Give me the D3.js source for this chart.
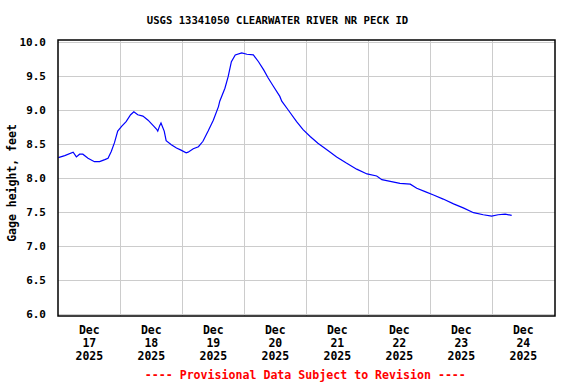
<!DOCTYPE html>
<html>
<head>
<meta charset="utf-8">
<script src="https://cdn.jsdelivr.net/npm/d3@7"></script>
<style>
html,body{margin:0;padding:0;background:#fff;}
svg{display:block;}
text{font-family:"DejaVu Sans Mono",monospace;font-weight:bold;}
</style>
</head>
<body>
<svg id="chart" width="576" height="384"></svg>
<script>
const title = "USGS 13341050 CLEARWATER RIVER NR PECK ID";
const yLabel = "Gage height, feet";
const footer = "---- Provisional Data Subject to Revision ----";
const yTicks = [6.0, 6.5, 7.0, 7.5, 8.0, 8.5, 9.0, 9.5, 10.0];
const dayTicks = ["2025-12-17","2025-12-18","2025-12-19","2025-12-20","2025-12-21","2025-12-22","2025-12-23","2025-12-24"];
const times = [
"2025-12-17T00:00","2025-12-17T02:30","2025-12-17T05:45","2025-12-17T07:00","2025-12-17T08:15","2025-12-17T09:30",
"2025-12-17T11:30","2025-12-17T14:00","2025-12-17T16:00","2025-12-17T18:00","2025-12-17T19:15","2025-12-17T20:30",
"2025-12-17T21:45","2025-12-17T23:00","2025-12-18T00:30","2025-12-18T02:15","2025-12-18T04:00","2025-12-18T05:15",
"2025-12-18T06:45","2025-12-18T08:45","2025-12-18T10:45","2025-12-18T12:45","2025-12-18T14:00","2025-12-18T14:30",
"2025-12-18T15:15","2025-12-18T15:45","2025-12-18T17:00","2025-12-18T17:45","2025-12-18T19:45","2025-12-18T21:45",
"2025-12-18T23:30","2025-12-19T01:30","2025-12-19T02:15","2025-12-19T04:15","2025-12-19T06:15","2025-12-19T08:00",
"2025-12-19T10:00","2025-12-19T12:00","2025-12-19T14:00","2025-12-19T14:30","2025-12-19T16:30","2025-12-19T17:45",
"2025-12-19T19:00","2025-12-19T20:30","2025-12-19T23:00","2025-12-20T01:00","2025-12-20T03:30","2025-12-20T05:30",
"2025-12-20T07:30","2025-12-20T09:15","2025-12-20T11:15","2025-12-20T13:45","2025-12-20T14:30","2025-12-20T17:00",
"2025-12-20T20:15","2025-12-20T22:45","2025-12-21T01:30","2025-12-21T04:30","2025-12-21T08:30","2025-12-21T11:45",
"2025-12-21T15:30","2025-12-21T19:30","2025-12-21T23:30","2025-12-22T03:15","2025-12-22T05:15","2025-12-22T08:30",
"2025-12-22T12:15","2025-12-22T16:15","2025-12-22T18:45","2025-12-22T22:00","2025-12-23T01:15","2025-12-23T05:00",
"2025-12-23T09:00","2025-12-23T12:45","2025-12-23T16:45","2025-12-23T20:30","2025-12-23T23:45","2025-12-24T02:15",
"2025-12-24T05:00","2025-12-24T07:30"
];
const heights = [
8.30,8.33,8.38,8.31,8.35,8.35,
8.29,8.24,8.24,8.27,8.29,8.39,
8.52,8.69,8.76,8.83,8.93,8.975,
8.93,8.91,8.85,8.77,8.72,8.69,
8.77,8.81,8.69,8.55,8.49,8.44,
8.41,8.37,8.38,8.43,8.46,8.54,
8.69,8.85,9.05,9.13,9.32,9.49,
9.71,9.81,9.84,9.82,9.81,9.71,
9.59,9.47,9.35,9.20,9.13,9.00,
8.83,8.71,8.61,8.51,8.40,8.31,
8.22,8.13,8.06,8.03,7.975,7.95,
7.92,7.91,7.85,7.80,7.75,7.69,
7.62,7.56,7.49,7.46,7.44,7.46,
7.47,7.45
];

const parse = d3.timeParse("%Y-%m-%dT%H:%M");
const parseDay = d3.timeParse("%Y-%m-%d");
const data = times.map((t,i)=>({t:parse(t), v:heights[i]}));

const svg = d3.select("#chart");
const L = 58, R = 555, T = 40, B = 316;
const x = d3.scaleTime().domain([parseDay("2025-12-17"), parseDay("2025-12-25")]).range([58.3, 554.3]);
const y = d3.scaleLinear().domain([6, 10]).range([314, 42]);

// gridlines
svg.append("g").selectAll("line.h").data(yTicks).join("line")
  .attr("x1", L).attr("x2", R)
  .attr("y1", d=>Math.round(y(d))+0.5).attr("y2", d=>Math.round(y(d))+0.5)
  .attr("stroke", "#cccccc").attr("stroke-width", 1);
svg.append("g").selectAll("line.v").data(dayTicks.slice(1)).join("line")
  .attr("x1", d=>Math.round(x(parseDay(d)))+0.5).attr("x2", d=>Math.round(x(parseDay(d)))+0.5)
  .attr("y1", T).attr("y2", B)
  .attr("stroke", "#cccccc").attr("stroke-width", 1);

// data line
svg.append("path").datum(data)
  .attr("d", d3.line().x(d=>x(d.t)).y(d=>y(d.v)))
  .attr("fill", "none").attr("stroke", "#0000ff").attr("stroke-width", 1.2);

// frame
svg.append("rect").attr("x", L).attr("y", T).attr("width", R-L).attr("height", B-T)
  .attr("fill", "none").attr("stroke", "#000").attr("stroke-width", 1.5);

// y tick labels
svg.append("g").selectAll("text").data(yTicks).join("text")
  .attr("x", 46).attr("y", d=>y(d)).attr("dy", "0.35em")
  .attr("text-anchor", "end").attr("font-size", "11px")
  .text(d=>d3.format(".1f")(d));

// x tick labels
const fmtMon = d3.timeFormat("%b"), fmtDay = d3.timeFormat("%d"), fmtYr = d3.timeFormat("%Y");
const xl = svg.append("g").selectAll("g").data(dayTicks).join("g")
  .attr("transform", d=>`translate(${x(d3.timeHour.offset(parseDay(d),12))},0)`);
xl.append("text").attr("y", 334).attr("text-anchor","middle").attr("font-size","11.5px").text(d=>fmtMon(parseDay(d)));
xl.append("text").attr("y", 347).attr("text-anchor","middle").attr("font-size","11.5px").text(d=>fmtDay(parseDay(d)));
xl.append("text").attr("y", 360).attr("text-anchor","middle").attr("font-size","11.5px").text(d=>fmtYr(parseDay(d)));

// title
svg.append("text").attr("x", 277.5).attr("y", 24).attr("text-anchor","middle")
  .attr("font-size","10.6px").text(title);

// y label
svg.append("text").attr("transform","translate(15.5,183) rotate(-90)")
  .attr("text-anchor","middle").attr("font-size","11.5px").text(yLabel);

// footer
svg.append("text").attr("x", 305.3).attr("y", 378.5).attr("text-anchor","middle")
  .attr("font-size","11.6px").attr("fill","#ff0000").text(footer);
</script>
</body>
</html>
